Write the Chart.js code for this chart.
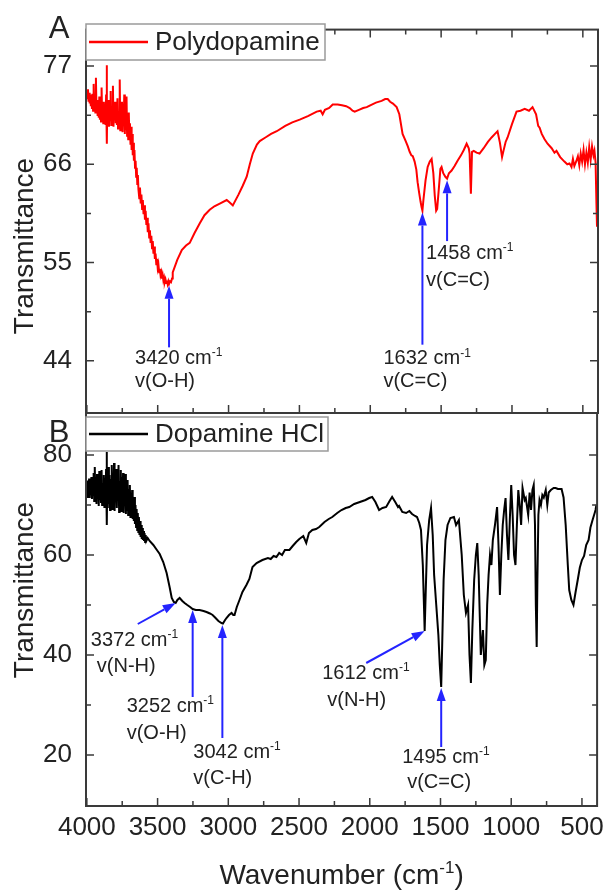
<!DOCTYPE html>
<html>
<head>
<meta charset="utf-8">
<script src="https://cdn.jsdelivr.net/npm/chart.js@4.4.0/dist/chart.umd.min.js"></script>
<style>
  html, body { margin: 0; padding: 0; background: #fff; }
  #wrap { position: relative; width: 610px; height: 892px; }
  #wrap canvas { position: absolute; left: 0; top: 0; }
</style>
</head>
<body>
<div id="wrap">
  <canvas id="pdaChart" width="610" height="892"></canvas>
  <canvas id="dopChart" width="610" height="892"></canvas>
</div>
<script>
// tick values
const waveTicks = [4000, 3500, 3000, 2500, 2000, 1500, 1000, 500];
const pdaTicks = [44, 55, 66, 77];
const dopTicks = [20, 40, 60, 80];

// polydopamine spectrum
const pdaWavenumber = [
  4000,3996,3992,3988,3984,3980,3976,3972,3968,3964,
  3960,3956,3952,3948,3944,3940,3936,3932,3928,3924,
  3920,3916,3912,3908,3904,3900,3896,3892,3888,3884,
  3880,3876,3872,3868,3864,3860,3858,3856,3852,3848,
  3844,3840,3836,3832,3828,3824,3820,3816,3812,3808,
  3804,3800,3796,3792,3788,3784,3780,3776,3772,3768,
  3764,3760,3756,3752,3748,3744,3740,3736,3732,3728,
  3724,3720,3716,3712,3708,3704,3700,3696,3692,3688,
  3684,3680,3676,3672,3668,3664,3660,3656,3652,3648,
  3644,3640,3636,3630,3625,3620,3615,3610,3605,3600,
  3595,3590,3585,3580,3575,3570,3565,3560,3555,3550,
  3545,3540,3535,3530,3525,3520,3515,3510,3505,3500,
  3495,3490,3485,3480,3475,3470,3465,3460,3455,3450,
  3445,3440,3435,3430,3425,3420,3413,3406,3399,3394,
  3362,3330,3300,3274,3240,3203,3170,3133,3100,3062,
  3013,2990,2970,2930,2900,2872,2850,2829,2800,2780,
  2740,2700,2660,2600,2550,2498,2440,2378,2350,2336,
  2320,2290,2265,2230,2200,2170,2145,2125,2110,2080,
  2050,2025,2000,1960,1920,1895,1877,1860,1840,1814,
  1795,1772,1750,1735,1722,1710,1700,1687,1675,1666,
  1655,1645,1638,1632,1625,1610,1595,1580,1567,1555,
  1545,1535,1528,1515,1505,1497,1485,1470,1458,1445,
  1426,1405,1384,1360,1340,1320,1305,1299,1290,1282,
  1270,1250,1229,1200,1170,1144,1120,1102,1085,1070,
  1060,1045,1031,1000,968,940,910,880,855,830,
  815,805,790,770,749,720,700,686,660,630,
  610,594,580,570,560,545,535,525,515,505,
  495,485,475,465,455,445,435,425,418,410,
  404,400
];
const pdaTransmittance = [
  74.1,73.4,74.4,73.0,74.0,72.8,73.8,72.5,73.6,72.2,
  73.9,72.0,75.0,72.4,73.4,71.8,75.7,72.0,73.2,71.4,
  72.9,71.2,73.6,71.0,72.6,70.8,74.6,71.0,72.8,70.6,
  73.0,71.2,72.4,70.4,73.8,77.1,68.3,72.6,70.6,73.2,
  70.2,72.8,71.0,74.2,70.4,72.4,70.8,74.8,70.2,72.6,
  71.2,73.0,70.6,72.2,70.4,73.4,70.0,72.0,70.6,75.5,
  69.8,72.2,70.2,73.0,69.6,72.4,70.8,73.8,69.4,72.0,
  69.8,73.6,69.2,71.6,68.8,71.8,69.0,70.6,68.2,70.2,
  67.6,69.4,67.0,68.4,66.4,67.6,65.6,66.4,64.6,65.6,
  63.8,64.8,63.2,62.2,63.4,61.6,62.6,61.0,62.0,60.4,
  61.4,59.8,60.8,59.2,60.0,58.4,59.4,57.8,58.6,57.2,
  58.0,56.6,57.4,56.0,56.8,55.4,56.0,54.8,55.4,54.4,
  54.8,53.9,54.3,53.6,53.9,53.2,53.6,53.0,53.3,52.8,
  53.1,52.7,53.0,52.6,52.9,52.6,52.9,52.8,53.2,53.9,
  55.3,56.4,56.9,57.2,58.3,59.4,60.3,60.9,61.3,61.6,
  62.0,61.7,61.4,62.6,63.6,64.6,66.0,67.2,68.2,68.6,
  69.0,69.4,69.7,70.3,70.7,71.0,71.4,71.9,72.0,71.6,
  72.1,72.3,72.7,72.7,72.6,72.5,72.3,72.0,71.9,72.1,
  72.3,72.4,72.6,72.9,73.1,73.3,73.3,73.0,72.8,72.4,
  71.6,69.4,68.6,68.0,67.4,67.0,66.9,66.3,65.4,64.0,
  62.8,61.8,61.2,60.8,62.0,64.2,65.7,66.3,66.6,65.0,
  62.5,60.8,61.0,63.5,65.5,65.7,65.0,64.6,64.4,65.0,
  65.3,65.8,66.4,67.0,67.6,68.3,67.8,67.2,62.7,67.4,
  67.5,67.3,67.2,67.8,68.5,69.0,69.4,69.7,68.4,66.8,
  67.5,68.5,69.0,70.5,71.9,72.0,72.2,72.0,72.4,71.6,
  70.3,70.1,69.4,68.8,68.3,67.8,67.3,67.5,66.8,66.3,
  66.0,66.1,65.7,66.6,65.8,66.4,66.9,65.9,67.2,66.3,
  67.6,66.0,67.3,66.2,67.9,66.5,68.0,67.0,67.5,66.2,
  61.6,59.0
];

// dopamine hydrochloride spectrum
const dopWavenumber = [
  4000,3996,3992,3988,3984,3980,3976,3972,3968,3964,
  3960,3956,3952,3948,3944,3940,3936,3932,3928,3924,
  3920,3916,3912,3908,3904,3900,3896,3892,3888,3884,
  3880,3876,3872,3868,3864,3860,3858,3856,3852,3848,
  3844,3840,3836,3832,3828,3824,3820,3816,3812,3808,
  3804,3800,3796,3792,3788,3784,3780,3776,3772,3768,
  3764,3760,3756,3752,3748,3744,3740,3736,3732,3728,
  3724,3720,3716,3712,3708,3704,3700,3696,3692,3688,
  3684,3680,3676,3672,3668,3664,3660,3656,3652,3648,
  3644,3640,3636,3632,3628,3624,3620,3616,3612,3608,
  3604,3600,3596,3592,3588,3584,3580,3570,3556,3530,
  3500,3485,3460,3436,3415,3400,3385,3372,3360,3344,
  3325,3309,3290,3270,3252,3230,3203,3175,3154,3130,
  3111,3090,3070,3048,3038,3025,3013,2995,2977,2965,
  2956,2940,2921,2900,2872,2851,2829,2800,2759,2720,
  2700,2680,2660,2640,2620,2600,2568,2545,2520,2498,
  2470,2449,2430,2406,2380,2357,2320,2290,2265,2230,
  2200,2170,2145,2110,2070,2030,2004,1983,1960,1934,
  1910,1884,1860,1842,1820,1800,1793,1770,1743,1720,
  1701,1680,1666,1650,1638,1625,1617,1612,1605,1595,
  1580,1567,1555,1545,1530,1515,1505,1495,1488,1478,
  1465,1450,1430,1405,1390,1370,1350,1335,1320,1305,
  1295,1285,1275,1262,1250,1240,1230,1215,1200,1190,
  1180,1170,1160,1150,1140,1130,1115,1100,1090,1080,
  1070,1060,1050,1040,1030,1020,1010,1000,990,980,
  970,960,950,940,930,920,905,897,880,870,
  860,850,841,832,826,820,815,808,800,790,
  780,770,756,745,735,720,700,686,670,644,
  630,615,600,590,575,560,545,530,515,500,
  485,470,453,440,425,410,404,398
];
const dopTransmittance = [
  73.8,71.6,74.9,72.0,75.3,71.4,74.2,72.6,75.6,71.2,
  74.0,72.2,76.4,70.8,77.6,71.0,75.0,70.2,76.2,71.6,
  74.6,69.8,76.8,71.0,75.2,70.4,77.0,70.0,74.4,71.8,
  76.0,69.6,75.4,70.6,77.2,80.6,66.0,74.0,69.4,77.6,
  70.2,76.0,69.0,75.2,71.4,78.0,69.2,76.4,70.8,78.4,
  68.8,75.0,70.6,77.2,69.4,76.0,71.2,78.0,68.6,74.8,
  70.0,77.0,68.8,75.6,69.6,76.4,68.4,74.0,70.6,76.2,
  68.2,73.6,69.0,75.0,68.0,73.2,69.4,74.0,67.6,72.4,
  68.0,73.0,67.2,71.4,66.8,71.6,66.2,70.0,65.6,69.2,
  65.0,68.4,64.6,67.6,64.0,66.8,63.6,66.0,63.2,65.4,
  63.0,64.8,62.8,64.4,62.6,64.0,62.8,63.4,62.8,62.0,
  60.8,60.2,58.6,56.4,53.6,51.4,50.6,50.4,51.0,51.4,
  50.8,50.4,50.0,49.6,49.2,49.0,49.0,48.8,48.6,48.3,
  48.0,47.4,46.8,46.4,46.3,46.9,47.4,48.0,48.4,48.0,
  48.0,49.6,51.0,52.6,54.0,55.2,57.6,58.4,59.0,59.4,
  59.2,59.8,59.6,60.4,60.0,61.0,61.0,61.8,62.6,63.2,
  63.8,62.4,64.4,65.0,65.2,65.6,66.6,67.2,67.6,68.4,
  69.0,69.4,69.6,70.2,70.6,71.0,71.4,71.6,70.6,69.0,
  69.4,69.6,70.8,71.6,70.6,69.6,69.8,68.6,68.4,68.8,
  68.2,67.8,67.6,66.4,65.0,58.0,50.0,44.8,52.0,62.0,
  67.0,69.4,64.0,56.0,50.0,44.0,38.0,33.6,42.0,55.0,
  63.0,66.0,67.4,67.6,66.0,67.0,60.0,52.0,48.4,50.0,
  40.0,34.4,45.0,55.0,60.0,62.4,56.0,40.0,45.0,38.0,
  39.0,50.0,56.0,60.0,58.0,63.0,66.0,69.6,62.0,52.0,
  60.0,66.0,69.0,71.4,64.0,59.0,67.0,74.0,68.0,60.0,
  58.0,66.0,73.0,70.0,66.0,73.4,71.0,71.4,68.0,72.5,
  69.0,73.0,74.0,66.0,50.0,41.6,55.0,68.0,71.0,70.0,
  72.0,71.5,73.0,70.0,72.5,73.0,73.4,73.4,73.2,73.2,
  71.5,66.0,58.0,53.0,51.0,50.0,52.6,55.0,57.5,59.0,
  59.8,62.0,63.0,65.5,67.0,68.4,69.0,70.0
];

// assigned bands: arrow tip on the curve, arrow tail, label
const pdaPeaks = [
  { wn: 3420, t: 52.4, tailWn: 3420, tailT: 45.5, label: '3420', mode: 'v(O-H)' },
  { wn: 1632, t: 60.6, tailWn: 1632, tailT: 45.8, label: '1632', mode: 'v(C=C)' },
  { wn: 1458, t: 64.2, tailWn: 1458, tailT: 57.4, label: '1458', mode: 'v(C=C)' }
];
const dopPeaks = [
  { wn: 3372, t: 50.4, tailWn: 3640, tailT: 46.2, label: '3372', mode: 'v(N-H)' },
  { wn: 3252, t: 49.0, tailWn: 3252, tailT: 31.6, label: '3252', mode: 'v(O-H)' },
  { wn: 3042, t: 46.0, tailWn: 3042, tailT: 23.4, label: '3042', mode: 'v(C-H)' },
  { wn: 1612, t: 44.8, tailWn: 2025, tailT: 38.4, label: '1612', mode: 'v(N-H)' },
  { wn: 1495, t: 33.4, tailWn: 1495, tailT: 21.6, label: '1495', mode: 'v(C=C)' }
];
// label offsets from the arrow tail: [dx line1, dy line1, dx line2, dy line2]
const pdaLabelOffsets = [[-34, 11, -34, 34], [-39, 14, -39, 37], [-21, 12, -21, 39]];
const dopLabelOffsets = [[-47, 16, -41, 42], [-66, 9, -66, 36], [-29, 14, -29, 40], [-44, 10, -39, 37], [-39, 10, -34, 35]];

const FONT = "'Liberation Sans', Arial, Helvetica, sans-serif";
const INK = '#222';
const FRAME = '#3a3a3a';
const ARROW = '#2424ff';

// text made of runs, some raised as superscript
function drawRuns(ctx, runs, x, y, size, align) {
  const supSize = Math.round(size * 0.62);
  const widths = runs.map(r => {
    ctx.font = (r.sup ? supSize : size) + 'px ' + FONT;
    return ctx.measureText(r.t).width;
  });
  const total = widths.reduce((a, b) => a + b, 0);
  let cx = align === 'center' ? x - total / 2 : x;
  ctx.textAlign = 'left';
  ctx.textBaseline = 'middle';
  runs.forEach((r, i) => {
    ctx.font = (r.sup ? supSize : size) + 'px ' + FONT;
    ctx.fillText(r.t, cx, r.sup ? y - size * 0.26 : y);
    cx += widths[i];
  });
}

function drawArrow(ctx, x1, y1, x2, y2) {
  const ang = Math.atan2(y2 - y1, x2 - x1);
  const head = 13, half = 4.5;
  const bx = x2 - head * Math.cos(ang), by = y2 - head * Math.sin(ang);
  ctx.beginPath();
  ctx.moveTo(x1, y1);
  ctx.lineTo(bx, by);
  ctx.stroke();
  ctx.beginPath();
  ctx.moveTo(x2, y2);
  ctx.lineTo(bx + half * Math.sin(ang), by - half * Math.cos(ang));
  ctx.lineTo(bx - half * Math.sin(ang), by + half * Math.cos(ang));
  ctx.closePath();
  ctx.fill();
}

function midpoints(vals) {
  const out = [];
  for (let i = 1; i < vals.length; i++) out.push((vals[i - 1] + vals[i]) / 2);
  return out;
}

// frame, inward ticks, panel letter, legend box, y title and band labels
const panelDecor = {
  id: 'panelDecor',
  afterDraw(chart, args, o) {
    const { ctx, chartArea: a } = chart;
    const xs = chart.scales.x, ys = chart.scales.y;
    ctx.save();

    // band arrows and labels
    ctx.strokeStyle = ARROW;
    ctx.fillStyle = ARROW;
    ctx.lineWidth = 2;
    o.peaks.forEach((p, i) => {
      const tx = xs.getPixelForValue(p.tailWn), ty = ys.getPixelForValue(p.tailT);
      drawArrow(ctx, tx, ty, xs.getPixelForValue(p.wn), ys.getPixelForValue(p.t));
    });
    ctx.fillStyle = INK;
    o.peaks.forEach((p, i) => {
      const tx = xs.getPixelForValue(p.tailWn), ty = ys.getPixelForValue(p.tailT);
      const off = o.offsets[i];
      drawRuns(ctx, [{ t: p.label + ' cm' }, { t: '-1', sup: true }], tx + off[0], ty + off[1], 20, 'left');
      drawRuns(ctx, [{ t: p.mode }], tx + off[2], ty + off[3], 20, 'left');
    });

    // frame
    ctx.strokeStyle = FRAME;
    ctx.lineWidth = 2;
    ctx.strokeRect(a.left, a.top, a.right - a.left, a.bottom - a.top);

    // inward ticks
    ctx.lineWidth = 1.5;
    const major = 8, minor = 5;
    const xMajor = waveTicks, xMinor = midpoints(waveTicks);
    const yMajor = o.yTicks, yMinor = midpoints(o.yTicks);
    const tickX = (vals, len) => vals.forEach(v => {
      const px = xs.getPixelForValue(v);
      if (px < a.left || px > a.right) return;
      ctx.beginPath();
      if (o.ticksTop) { ctx.moveTo(px, a.top); ctx.lineTo(px, a.top + len); }
      ctx.moveTo(px, a.bottom); ctx.lineTo(px, a.bottom - len);
      ctx.stroke();
    });
    const tickY = (vals, len) => vals.forEach(v => {
      const py = ys.getPixelForValue(v);
      ctx.beginPath();
      ctx.moveTo(a.left, py); ctx.lineTo(a.left + len, py);
      ctx.moveTo(a.right, py); ctx.lineTo(a.right - len, py);
      ctx.stroke();
    });
    tickX(xMajor, major); tickX(xMinor, minor);
    tickY(yMajor, major); tickY(yMinor, minor);

    // legend box
    const lg = o.legend;
    ctx.fillStyle = '#fff';
    ctx.fillRect(a.left, lg.top, lg.width, lg.height);
    ctx.strokeStyle = '#9a9a9a';
    ctx.lineWidth = 1.5;
    ctx.strokeRect(a.left, lg.top, lg.width, lg.height);
    const ly = lg.top + lg.height / 2;
    ctx.strokeStyle = o.color;
    ctx.lineWidth = 2.5;
    ctx.beginPath();
    ctx.moveTo(a.left + 3, ly); ctx.lineTo(a.left + 62, ly);
    ctx.stroke();
    ctx.fillStyle = INK;
    ctx.font = '26px ' + FONT;
    ctx.textAlign = 'left';
    ctx.textBaseline = 'middle';
    ctx.fillText(lg.text, a.left + 69, ly + 1);

    // panel letter
    ctx.font = '31px ' + FONT;
    ctx.textAlign = 'center';
    ctx.fillText(o.letter, 59, o.letterY);

    // y title
    ctx.save();
    ctx.translate(25, o.titleY);
    ctx.rotate(-Math.PI / 2);
    ctx.font = '28px ' + FONT;
    ctx.textAlign = 'center';
    ctx.textBaseline = 'middle';
    ctx.fillText('Transmittance', 0, 0);
    ctx.restore();

    // x title on the lower panel
    if (o.xTitle) {
      drawRuns(ctx, [{ t: 'Wavenumber (cm' }, { t: '-1', sup: true }, { t: ')' }],
        (a.left + a.right) / 2, 876, 28, 'center');
    }
    ctx.restore();
  }
};

function makeChart(id, wn, tr, color, yMin, yMax, yTicks, pad, deco, showX) {
  return new Chart(document.getElementById(id), {
    type: 'scatter',
    data: {
      datasets: [{
        data: wn.map((w, i) => ({ x: w, y: tr[i] })),
        showLine: true,
        borderColor: color,
        borderWidth: 2,
        pointRadius: 0,
        tension: 0
      }]
    },
    options: {
      responsive: false,
      animation: false,
      layout: { padding: pad },
      plugins: {
        legend: { display: false },
        tooltip: { enabled: false },
        panelDecor: deco
      },
      scales: {
        x: {
          type: 'linear',
          reverse: true,
          min: 393,
          max: 4006,
          display: showX,
          grid: { display: false, drawTicks: false },
          border: { display: false },
          afterBuildTicks: s => { s.ticks = waveTicks.map(v => ({ value: v })); },
          afterFit: s => { if (showX) s.height = 86; },
          ticks: {
            color: INK,
            padding: 6,
            maxRotation: 0,
            autoSkip: false,
            font: { family: FONT, size: 26 },
            callback: v => String(v)
          }
        },
        y: {
          min: yMin,
          max: yMax,
          grid: { display: false, drawTicks: false },
          border: { display: false },
          afterBuildTicks: s => { s.ticks = yTicks.map(v => ({ value: v })); },
          afterFit: s => { s.width = 86; },
          ticks: {
            color: INK,
            padding: 14,
            font: { family: FONT, size: 26 },
            callback: v => String(v)
          }
        }
      }
    },
    plugins: [panelDecor]
  });
}

makeChart('pdaChart', pdaWavenumber, pdaTransmittance, '#ff0000', 38.15, 81.08, pdaTicks,
  { left: 0, top: 24, right: 12, bottom: 479 },
  { peaks: pdaPeaks, offsets: pdaLabelOffsets, yTicks: pdaTicks, ticksTop: true, color: '#ff0000',
    legend: { top: 24, width: 239, height: 36, text: 'Polydopamine' },
    letter: 'A', letterY: 29, titleY: 246, xTitle: false }, false);

makeChart('dopChart', dopWavenumber, dopTransmittance, '#000000', 9.8, 88.4, dopTicks,
  { left: 0, top: 413, right: 12, bottom: 0 },
  { peaks: dopPeaks, offsets: dopLabelOffsets, yTicks: dopTicks, ticksTop: false, color: '#000000',
    legend: { top: 417, width: 242, height: 34, text: 'Dopamine HCl' },
    letter: 'B', letterY: 433, titleY: 590, xTitle: true }, true);
</script>
</body>
</html>
